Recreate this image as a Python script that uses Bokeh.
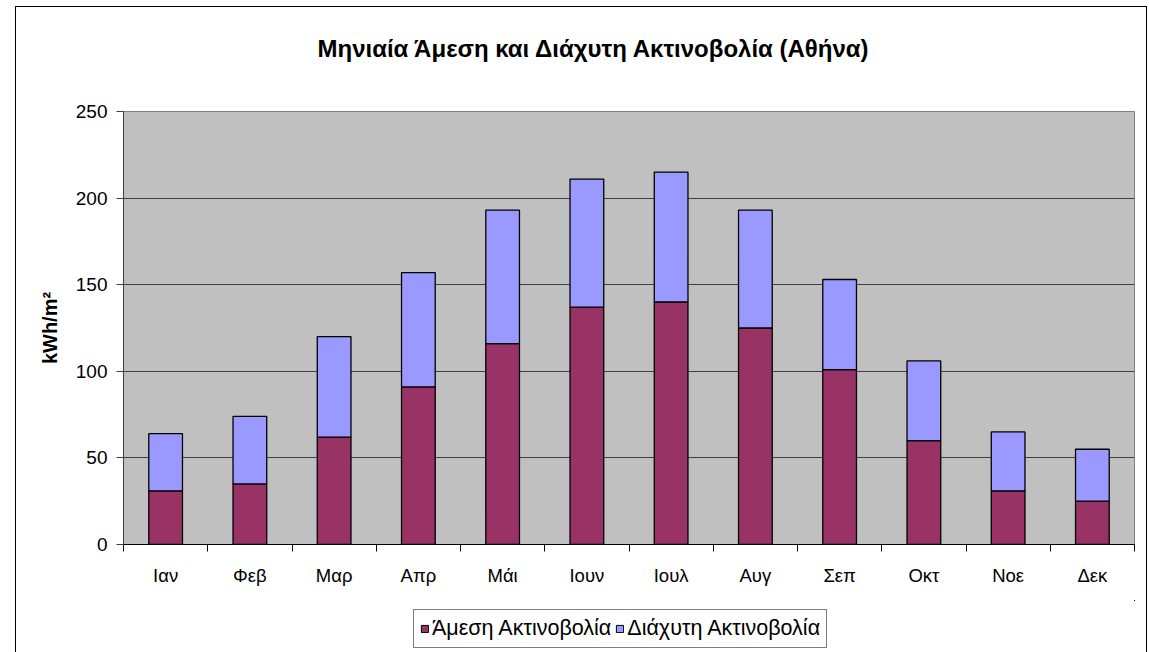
from bokeh.plotting import figure
from bokeh.layouts import column
from bokeh.models import (Range1d, FixedTicker, Legend, LegendItem, ColumnDataSource, Title)
from bokeh.embed import file_html
from bokeh.resources import INLINE

months = ["Ιαν", "Φεβ", "Μαρ", "Απρ", "Μάι", "Ιουν", "Ιουλ", "Αυγ", "Σεπ", "Οκτ", "Νοε", "Δεκ"]
direct = [31, 35, 62, 91, 116, 137, 140, 125, 101, 60, 31, 25]
totals = [64, 74, 120, 157, 193, 211, 215, 193, 153, 106, 65, 55]
diffuse = [t - d for t, d in zip(totals, direct)]
series_names = ["Άμεση Ακτινοβολία", "Διάχυτη Ακτινοβολία"]
colors = ["#993366", "#9999FF"]
title_text = "Μηνιαία Άμεση και Διάχυτη Ακτινοβολία (Αθήνα)"
y_label = "kWh/m²"
y_ticks = [0, 50, 100, 150, 200, 250]

FONT = "Liberation Sans"
# content placed at page (16, 7) by the column's margin + border
OX, OY = 16, 7
W = 1146 - OX
H1 = 600 - OY          # main chart
H2 = 652 - 600         # legend strip
FL, FR, FT, FB = 123 - OX, 1134 - OX, 111 - OY, 544 - OY

xs = list(range(1, len(months) + 1))
src = ColumnDataSource(dict(x=xs, direct=direct, diffuse=diffuse))

p = figure(width=W, height=H1, output_backend="svg", toolbar_location=None,
           x_range=Range1d(0.5, len(months) + 0.5), y_range=Range1d(0, 250),
           min_border_left=FL, min_border_right=W - FR,
           min_border_top=FT, min_border_bottom=H1 - FB)
p.background_fill_color = "#C0C0C0"
p.border_fill_color = "white"
p.outline_line_color = "#808080"
p.outline_line_width = 1

rs = p.vbar_stack(["direct", "diffuse"], x="x", width=0.4, source=src,
                  fill_color=colors, line_color="black", line_width=1.3)

# title (spacer title keeps it away from the plot area)
p.title.text = title_text
p.title.text_font = FONT
p.title.text_font_size = "24px"
p.title.text_font_style = "bold"
p.title.text_color = "black"
p.title.align = "left"
p.title.offset = 194
p.title.standoff = 0
p.add_layout(Title(text=" ", text_font_size="10px", standoff=37), "above")

# y axis
p.yaxis.ticker = FixedTicker(ticks=y_ticks)
p.yaxis.minor_tick_line_color = None
p.yaxis.major_tick_in = 0
p.yaxis.major_tick_out = 7
p.yaxis.major_tick_line_color = "#404040"
p.yaxis.axis_line_color = "#404040"
p.yaxis.major_label_text_font = FONT
p.yaxis.major_label_text_font_size = "19px"
p.yaxis.major_label_text_color = "black"
p.yaxis.major_label_standoff = 9
p.yaxis.axis_label = y_label
p.yaxis.axis_label_text_font = FONT
p.yaxis.axis_label_text_font_size = "20px"
p.yaxis.axis_label_text_font_style = "bold"
p.yaxis.axis_label_text_color = "black"
p.yaxis.axis_label_standoff = 12

# x axis: labels at centres, ticks at boundaries (minor ticks)
p.xaxis.ticker = FixedTicker(ticks=xs, minor_ticks=[x - 0.5 for x in xs] + [len(xs) + 0.5])
p.xaxis.major_label_overrides = {x: m for x, m in zip(xs, months)}
p.xaxis.major_tick_out = 0
p.xaxis.major_tick_in = 0
p.xaxis.minor_tick_in = 0
p.xaxis.minor_tick_out = 7
p.xaxis.minor_tick_line_color = "black"
p.xaxis.axis_line_color = "black"
p.xaxis.major_label_text_font = FONT
p.xaxis.major_label_text_font_size = "18.5px"
p.xaxis.major_label_text_color = "black"
p.xaxis.major_label_standoff = 13

p.xgrid.grid_line_color = None
p.ygrid.ticker = FixedTicker(ticks=y_ticks)
p.ygrid.grid_line_color = "#404040"
p.ygrid.grid_line_width = 1

# legend strip below the chart (its own copy of the bars lies outside its view)
p2 = figure(width=W, height=H2, output_backend="svg", toolbar_location=None,
            x_range=Range1d(-1, 0), y_range=Range1d(-1, 0),
            x_axis_type=None, y_axis_type=None, min_border=0)
p2.outline_line_color = None
p2.background_fill_color = None
p2.border_fill_color = "white"
lr = p2.vbar_stack(["direct", "diffuse"], x="x", width=0.4, source=src,
                   fill_color=colors, line_color="black", line_width=1)
legend = Legend(items=[LegendItem(label=n, renderers=[r]) for n, r in zip(series_names, lr)],
                orientation="horizontal", location=(413 - 123, 4),
                label_text_font=FONT, label_text_font_size="21.5px", label_text_color="black",
                glyph_width=9, glyph_height=9, label_standoff=3, spacing=4,
                padding=6, margin=0, label_height=9,
                border_line_color="black", border_line_width=1,
                background_fill_color="white", background_fill_alpha=1)
p2.add_layout(legend, "center")

layout = column(p, p2, spacing=0,
                styles={"margin-left": "15px", "margin-top": "6px",
                        "border-left": "1px solid black", "border-top": "1px solid black",
                        "border-right": "1px solid black"})

open("out.html", "w").write(file_html(layout, INLINE))
